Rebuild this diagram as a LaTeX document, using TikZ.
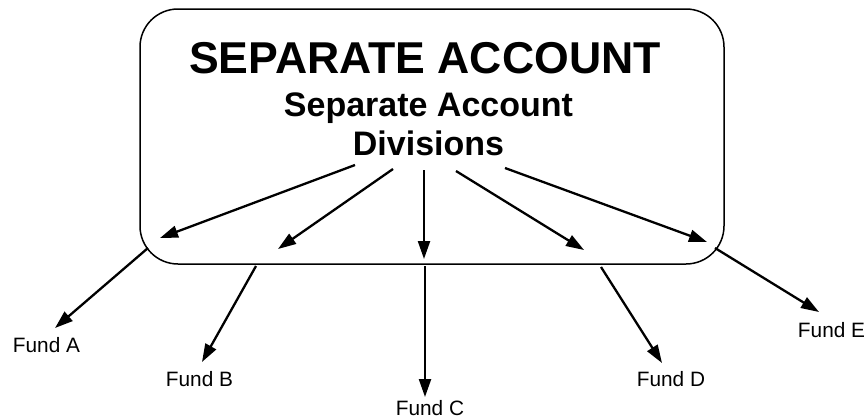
\documentclass[tikz,border=0pt]{standalone}
\usepackage{fontspec}
\setmainfont{Liberation Sans}
\usetikzlibrary{arrows.meta}
\begin{document}
\begin{tikzpicture}[x=1pt,y=-1pt,
  container/.style={draw, line width=1.5pt, rounded corners=38pt, minimum width=584pt, minimum height=255pt, inner sep=0pt},
  title/.style={anchor=base, inner sep=0pt, font=\bfseries\fontsize{44.6}{45}\selectfont},
  subtitle/.style={anchor=base, inner sep=0pt, font=\bfseries\fontsize{34}{34}\selectfont},
  fund/.style={anchor=base, inner sep=0pt, text depth=0pt, font=\fontsize{20.8}{21}\selectfont},
  arr/.style={line width=2.3pt, -{Triangle[length=18pt,width=12pt]}}
]
\useasboundingbox (0,0) rectangle (865,418);
\node[container] (box) at (432,136.5) {};
\node[title] (t1) at (425,73) {SEPARATE ACCOUNT};
\node[subtitle] (t2) at (428.5,116) {Separate Account};
\node[subtitle] (t3) at (428.5,155) {Divisions};
\node[fund] (fa) at (46.5,352) {Fund A};
\node[fund] (fb) at (199.5,386) {Fund B};
\node[fund] (fc) at (430,415) {Fund C};
\node[fund] (fd) at (671,386) {Fund D};
\node[fund] (fe) at (831.5,337) {Fund E};
% inner arrows
\coordinate (s1) at (355,165); \coordinate (e1) at (160,238);
\coordinate (s2) at (393,169); \coordinate (e2) at (278,249);
\coordinate (s3) at (424,170); \coordinate (e3) at (424,259);
\coordinate (s4) at (456,171); \coordinate (e4) at (584,250);
\coordinate (s5) at (505,168); \coordinate (e5) at (707,242);
\draw[arr] (s1) -- (e1);
\draw[arr] (s2) -- (e2);
\draw[arr] (s3) -- (e3);
\draw[arr] (s4) -- (e4);
\draw[arr] (s5) -- (e5);
% outer arrows
\coordinate (oa) at (148,248); \coordinate (ta) at (55,328);
\coordinate (ob) at (256,266); \coordinate (tb) at (202,362);
\coordinate (oc) at (425,266); \coordinate (tc) at (425,397);
\coordinate (od) at (601,267); \coordinate (td) at (662,363);
\coordinate (oe) at (715,248); \coordinate (te) at (819,312);
\draw[arr] (oa) -- (ta);
\draw[arr] (ob) -- (tb);
\draw[arr] (oc) -- (tc);
\draw[arr] (od) -- (td);
\draw[arr] (oe) -- (te);
\end{tikzpicture}
\end{document}
